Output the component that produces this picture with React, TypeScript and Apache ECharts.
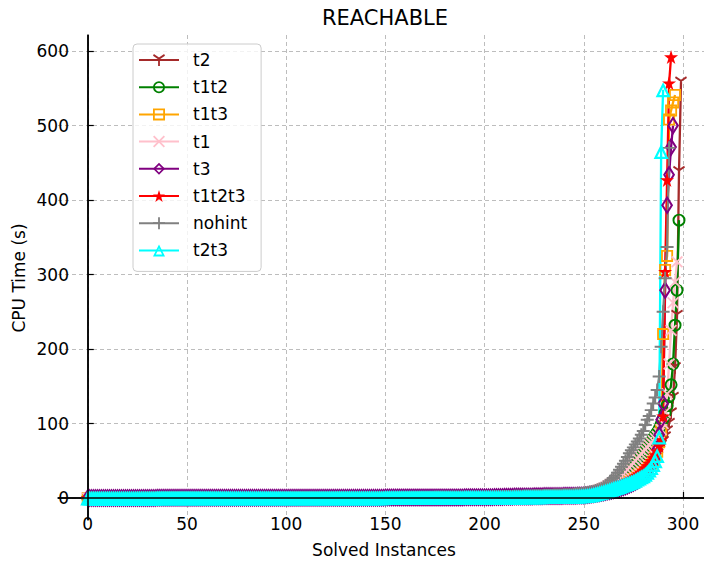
import React, { useEffect, useRef } from "react";
import * as echarts from "echarts";

const FONT = "DejaVu Sans";

const seriesNames = ["t2", "t1t2", "t1t3", "t1", "t3", "t1t2t3", "nohint", "t2t3"];
const xTicks = [0, 50, 100, 150, 200, 250, 300];
const yTicks = [0, 100, 200, 300, 400, 500, 600];
const titleText = "REACHABLE";
const xName = "Solved Instances";
const yName = "CPU Time (s)";

// CPU time (s) of each solved instance, sorted (cactus plot)
const t2 = [
  0.1,0.1,0.1,0.1,0.1, 0.1,0.1,0.1,0.1,0.1, 0.1,0.1,0.1,0.1,0.1, 0.1,0.1,0.1,0.1,0.1, 0.1,0.1,0.1,0.1,0.1,
  0.1,0.1,0.1,0.1,0.1, 0.2,0.2,0.2,0.2,0.2, 0.2,0.2,0.2,0.2,0.2, 0.2,0.2,0.2,0.2,0.2, 0.2,0.2,0.2,0.2,0.2,
  0.2,0.2,0.2,0.2,0.2, 0.2,0.2,0.2,0.2,0.2, 0.2,0.2,0.2,0.2,0.2, 0.2,0.2,0.2,0.2,0.2, 0.3,0.3,0.3,0.3,0.3,
  0.3,0.3,0.3,0.3,0.3, 0.3,0.3,0.3,0.3,0.3, 0.3,0.3,0.3,0.3,0.3, 0.3,0.3,0.3,0.3,0.3, 0.3,0.3,0.3,0.3,0.3,
  0.3,0.3,0.3,0.3,0.3, 0.3,0.3,0.3,0.3,0.3, 0.4,0.4,0.4,0.4,0.4, 0.4,0.4,0.4,0.4,0.4, 0.5,0.5,0.5,0.5,0.5,
  0.5,0.5,0.5,0.5,0.5, 0.5,0.5,0.5,0.5,0.5, 0.5,0.5,0.5,0.5,0.5, 0.5,0.5,0.5,0.5,0.5, 0.5,0.5,0.5,0.5,0.5,
  0.6,0.6,0.6,0.6,0.6, 0.6,0.6,0.6,0.6,0.6, 0.7,0.7,0.7,0.7,0.7, 0.7,0.7,0.7,0.7,0.7, 0.7,0.7,0.7,0.7,0.7,
  0.8,0.8,0.8,0.8,0.8, 0.8,0.8,0.8,0.8,0.8, 0.9,0.9,0.9,0.9,0.9, 0.9,0.9,0.9,0.9,0.9, 1,1,1,1,1,
  1.1,1.1,1.1,1.1,1.1, 1.3,1.3,1.3,1.3,1.3, 1.5,1.5,1.5,1.5,1.5, 1.7,1.7,1.7,1.7,1.7, 1.9,1.9,1.9,1.9,1.9,
  2.1,2.1,2.1,2.1,2.1, 2.5,2.5,2.5,2.5,2.5, 2.9,2.9,2.9,2.9,2.9, 3.3,3.3,3.3,3.3,3.3, 3.8,4,4.2,4.4,4.7,
  5,5.4,5.8,6.2,6.7, 7.2,7.8,8.4,9,9.7,
  10.5,11.3,12.1,13,13.9, 14.8,15.8,16.8,18,19.2,
  20.5,22,23.5,25,26.5, 28,30,32,34,36,
  38.5,41,44,47,50, 54,58,62,66,71,
  76,82,90,100,114, 135,175,245,438,558,
];

const t1t2 = [
  0.1,0.1,0.1,0.1,0.1, 0.1,0.1,0.1,0.1,0.1, 0.1,0.1,0.1,0.1,0.1, 0.1,0.1,0.1,0.1,0.1, 0.1,0.1,0.1,0.1,0.1,
  0.1,0.1,0.1,0.1,0.1, 0.1,0.1,0.1,0.1,0.1, 0.2,0.2,0.2,0.2,0.2, 0.2,0.2,0.2,0.2,0.2, 0.2,0.2,0.2,0.2,0.2,
  0.2,0.2,0.2,0.2,0.2, 0.2,0.2,0.2,0.2,0.2, 0.2,0.2,0.2,0.2,0.2, 0.2,0.2,0.2,0.2,0.2, 0.2,0.2,0.2,0.2,0.2,
  0.3,0.3,0.3,0.3,0.3, 0.3,0.3,0.3,0.3,0.3, 0.3,0.3,0.3,0.3,0.3, 0.3,0.3,0.3,0.3,0.3, 0.3,0.3,0.3,0.3,0.3,
  0.4,0.4,0.4,0.4,0.4, 0.4,0.4,0.4,0.4,0.4, 0.4,0.4,0.4,0.4,0.4, 0.4,0.4,0.4,0.4,0.4, 0.4,0.4,0.4,0.4,0.4,
  0.5,0.5,0.5,0.5,0.5, 0.5,0.5,0.5,0.5,0.5, 0.5,0.5,0.5,0.5,0.5, 0.6,0.6,0.6,0.6,0.6, 0.6,0.6,0.6,0.6,0.6,
  0.7,0.7,0.7,0.7,0.7, 0.7,0.7,0.7,0.7,0.7, 0.7,0.7,0.7,0.7,0.7, 0.7,0.7,0.7,0.7,0.7, 0.7,0.7,0.7,0.7,0.7,
  0.8,0.8,0.8,0.8,0.8, 0.8,0.8,0.8,0.8,0.8, 1,1,1,1,1, 1,1,1,1,1, 1.2,1.2,1.2,1.2,1.2,
  1.4,1.4,1.4,1.4,1.4, 1.6,1.6,1.6,1.6,1.6, 1.8,1.8,1.8,1.8,1.8, 2,2,2,2,2, 2.3,2.3,2.3,2.3,2.3,
  2.6,2.6,2.6,2.6,2.6, 3,3,3,3,3, 3.4,3.4,3.4,3.4,3.4, 3.8,3.8,3.8,3.8,3.8, 4.2,4.4,4.6,4.9,5.2,
  5.5,5.8,6.2,6.6,7, 7.5,8,8.6,9.2,9.8,
  11,12,13.2,14.5,16, 17.5,19.2,21,23,25,
  27,29.5,32,35,38, 41.5,45,48.5,52,56,
  60,64,68,72,76, 80,84,88,93,99,
  106,114,124,136,152, 180,232,279,373,
];

const t1t3 = [
  0.1,0.1,0.1,0.1,0.1, 0.1,0.1,0.1,0.1,0.1, 0.1,0.1,0.1,0.1,0.1, 0.1,0.1,0.1,0.1,0.1, 0.1,0.1,0.1,0.1,0.1,
  0.1,0.1,0.1,0.1,0.1, 0.1,0.1,0.1,0.1,0.1, 0.1,0.1,0.1,0.1,0.1, 0.2,0.2,0.2,0.2,0.2, 0.2,0.2,0.2,0.2,0.2,
  0.2,0.2,0.2,0.2,0.2, 0.2,0.2,0.2,0.2,0.2, 0.2,0.2,0.2,0.2,0.2, 0.2,0.2,0.2,0.2,0.2, 0.2,0.2,0.2,0.2,0.2,
  0.2,0.2,0.2,0.2,0.2, 0.2,0.2,0.2,0.2,0.2, 0.3,0.3,0.3,0.3,0.3, 0.3,0.3,0.3,0.3,0.3, 0.3,0.3,0.3,0.3,0.3,
  0.3,0.3,0.3,0.3,0.3, 0.3,0.3,0.3,0.3,0.3, 0.4,0.4,0.4,0.4,0.4, 0.4,0.4,0.4,0.4,0.4, 0.4,0.4,0.4,0.4,0.4,
  0.5,0.5,0.5,0.5,0.5, 0.5,0.5,0.5,0.5,0.5, 0.5,0.5,0.5,0.5,0.5, 0.5,0.5,0.5,0.5,0.5, 0.5,0.5,0.5,0.5,0.5,
  0.6,0.6,0.6,0.6,0.6, 0.6,0.6,0.6,0.6,0.6, 0.6,0.6,0.6,0.6,0.6, 0.7,0.7,0.7,0.7,0.7, 0.7,0.7,0.7,0.7,0.7,
  0.8,0.8,0.8,0.8,0.8, 0.8,0.8,0.8,0.8,0.8, 0.8,0.8,0.8,0.8,0.8, 0.9,0.9,0.9,0.9,0.9, 0.9,0.9,0.9,0.9,0.9,
  1,1,1,1,1, 1.2,1.2,1.2,1.2,1.2, 1.4,1.4,1.4,1.4,1.4, 1.6,1.6,1.6,1.6,1.6, 1.8,1.8,1.8,1.8,1.8,
  2,2,2,2,2, 2.4,2.4,2.4,2.4,2.4, 2.8,2.8,2.8,2.8,2.8, 3.2,3.2,3.2,3.2,3.2, 3.6,3.8,4,4.2,4.3,
  4.5,4.8,5.1,5.5,5.9, 6.3,6.8,7.3,7.8,8.4,
  9,9.7,10.4,11.2,12, 12.9,13.8,14.8,15.8,17,
  18.2,19.5,21,22.5,24, 25.5,27,29,31,33,
  35,37.5,40,43,46, 50,55,62,75,91,
  220,306,325,508,520, 531,541,
];

const t1 = [
  0.1,0.1,0.1,0.1,0.1, 0.1,0.1,0.1,0.1,0.1, 0.1,0.1,0.1,0.1,0.1, 0.1,0.1,0.1,0.1,0.1, 0.1,0.1,0.1,0.1,0.1,
  0.1,0.1,0.1,0.1,0.1, 0.2,0.2,0.2,0.2,0.2, 0.2,0.2,0.2,0.2,0.2, 0.2,0.2,0.2,0.2,0.2, 0.2,0.2,0.2,0.2,0.2,
  0.2,0.2,0.2,0.2,0.2, 0.2,0.2,0.2,0.2,0.2, 0.2,0.2,0.2,0.2,0.2, 0.3,0.3,0.3,0.3,0.3, 0.3,0.3,0.3,0.3,0.3,
  0.3,0.3,0.3,0.3,0.3, 0.3,0.3,0.3,0.3,0.3, 0.3,0.3,0.3,0.3,0.3, 0.3,0.3,0.3,0.3,0.3, 0.4,0.4,0.4,0.4,0.4,
  0.4,0.4,0.4,0.4,0.4, 0.4,0.4,0.4,0.4,0.4, 0.4,0.4,0.4,0.4,0.4, 0.4,0.4,0.4,0.4,0.4, 0.5,0.5,0.5,0.5,0.5,
  0.5,0.5,0.5,0.5,0.5, 0.5,0.5,0.5,0.5,0.5, 0.5,0.5,0.5,0.5,0.5, 0.6,0.6,0.6,0.6,0.6, 0.6,0.6,0.6,0.6,0.6,
  0.7,0.7,0.7,0.7,0.7, 0.7,0.7,0.7,0.7,0.7, 0.7,0.7,0.7,0.7,0.7, 0.7,0.7,0.7,0.7,0.7, 0.8,0.8,0.8,0.8,0.8,
  0.9,0.9,0.9,0.9,0.9, 0.9,0.9,0.9,0.9,0.9, 1,1,1,1,1, 1,1,1,1,1, 1.2,1.2,1.2,1.2,1.2,
  1.4,1.4,1.4,1.4,1.4, 1.6,1.6,1.6,1.6,1.6, 1.9,1.9,1.9,1.9,1.9, 2.2,2.2,2.2,2.2,2.2, 2.5,2.5,2.5,2.5,2.5,
  2.9,2.9,2.9,2.9,2.9, 3.3,3.3,3.3,3.3,3.3, 3.8,3.8,3.8,3.8,3.8, 4.3,4.3,4.3,4.3,4.3, 4.8,5,5.2,5.5,5.7,
  6,6.5,7,7.6,8.2, 8.9,9.6,10.4,11.3,12.3,
  13.4,14.6,16,17.5,19, 21,23,25,27.5,30,
  32.5,35,38,41,44, 47,50,53,56,59,
  62,65,68,71,74, 77,80,83,87,92,
  100,115,140,180,225, 262,290,317,
];

const t3 = [
  0.1,0.1,0.1,0.1,0.1, 0.1,0.1,0.1,0.1,0.1, 0.1,0.1,0.1,0.1,0.1, 0.1,0.1,0.1,0.1,0.1, 0.1,0.1,0.1,0.1,0.1,
  0.1,0.1,0.1,0.1,0.1, 0.1,0.1,0.1,0.1,0.1, 0.2,0.2,0.2,0.2,0.2, 0.2,0.2,0.2,0.2,0.2, 0.2,0.2,0.2,0.2,0.2,
  0.2,0.2,0.2,0.2,0.2, 0.2,0.2,0.2,0.2,0.2, 0.2,0.2,0.2,0.2,0.2, 0.2,0.2,0.2,0.2,0.2, 0.2,0.2,0.2,0.2,0.2,
  0.3,0.3,0.3,0.3,0.3, 0.3,0.3,0.3,0.3,0.3, 0.3,0.3,0.3,0.3,0.3, 0.3,0.3,0.3,0.3,0.3, 0.3,0.3,0.3,0.3,0.3,
  0.3,0.3,0.3,0.3,0.3, 0.4,0.4,0.4,0.4,0.4, 0.4,0.4,0.4,0.4,0.4, 0.4,0.4,0.4,0.4,0.4, 0.4,0.4,0.4,0.4,0.4,
  0.5,0.5,0.5,0.5,0.5, 0.5,0.5,0.5,0.5,0.5, 0.5,0.5,0.5,0.5,0.5, 0.5,0.5,0.5,0.5,0.5, 0.5,0.5,0.5,0.5,0.5,
  0.6,0.6,0.6,0.6,0.6, 0.6,0.6,0.6,0.6,0.6, 0.6,0.6,0.6,0.6,0.6, 0.7,0.7,0.7,0.7,0.7, 0.7,0.7,0.7,0.7,0.7,
  0.8,0.8,0.8,0.8,0.8, 0.8,0.8,0.8,0.8,0.8, 0.8,0.8,0.8,0.8,0.8, 0.9,0.9,0.9,0.9,0.9, 0.9,0.9,0.9,0.9,0.9,
  1,1,1,1,1, 1.5,1.5,1.5,1.5,1.5, 1.8,1.8,1.8,1.8,1.8, 2,2,2,2,2, 2.2,2.2,2.2,2.2,2.2,
  2.4,2.4,2.4,2.4,2.4, 2.6,2.6,2.6,2.6,2.6, 2.8,2.8,2.8,2.8,2.8, 3,3,3,3,3, 3.1,3.2,3.3,3.4,3.4,
  3.5,3.8,4.1,4.4,4.8, 5.2,5.6,6,6.5,7,
  7.5,8,8.6,9.2,9.8, 10.5,11.2,12,12.8,13.7,
  14.6,15.6,16.6,17.7,18.9, 20.2,21.6,23.2,25,27,
  29,31.5,34.5,38,42, 47,54,65,85,105,
  127,279,393,434,471, 500,
];

const t1t2t3 = [
  0.1,0.1,0.1,0.1,0.1, 0.1,0.1,0.1,0.1,0.1, 0.1,0.1,0.1,0.1,0.1, 0.1,0.1,0.1,0.1,0.1, 0.1,0.1,0.1,0.1,0.1,
  0.1,0.1,0.1,0.1,0.1, 0.2,0.2,0.2,0.2,0.2, 0.2,0.2,0.2,0.2,0.2, 0.2,0.2,0.2,0.2,0.2, 0.2,0.2,0.2,0.2,0.2,
  0.2,0.2,0.2,0.2,0.2, 0.2,0.2,0.2,0.2,0.2, 0.2,0.2,0.2,0.2,0.2, 0.2,0.2,0.2,0.2,0.2, 0.3,0.3,0.3,0.3,0.3,
  0.3,0.3,0.3,0.3,0.3, 0.3,0.3,0.3,0.3,0.3, 0.3,0.3,0.3,0.3,0.3, 0.3,0.3,0.3,0.3,0.3, 0.3,0.3,0.3,0.3,0.3,
  0.4,0.4,0.4,0.4,0.4, 0.4,0.4,0.4,0.4,0.4, 0.4,0.4,0.4,0.4,0.4, 0.4,0.4,0.4,0.4,0.4, 0.4,0.4,0.4,0.4,0.4,
  0.5,0.5,0.5,0.5,0.5, 0.5,0.5,0.5,0.5,0.5, 0.5,0.5,0.5,0.5,0.5, 0.5,0.5,0.5,0.5,0.5, 0.6,0.6,0.6,0.6,0.6,
  0.6,0.6,0.6,0.6,0.6, 0.6,0.6,0.6,0.6,0.6, 0.7,0.7,0.7,0.7,0.7, 0.7,0.7,0.7,0.7,0.7, 0.7,0.7,0.7,0.7,0.7,
  0.8,0.8,0.8,0.8,0.8, 0.8,0.8,0.8,0.8,0.8, 0.8,0.8,0.8,0.8,0.8, 1,1,1,1,1, 1,1,1,1,1,
  1.1,1.1,1.1,1.1,1.1, 1.3,1.3,1.3,1.3,1.3, 1.5,1.5,1.5,1.5,1.5, 1.7,1.7,1.7,1.7,1.7, 2,2,2,2,2,
  2.3,2.3,2.3,2.3,2.3, 2.6,2.6,2.6,2.6,2.6, 3,3,3,3,3, 3.3,3.3,3.3,3.3,3.3, 3.5,3.6,3.7,3.8,3.9,
  4,4.3,4.6,5,5.4, 5.8,6.3,6.8,7.3,7.9,
  8.5,9.2,10,10.8,11.7, 12.6,13.6,14.7,15.9,17.2,
  18.6,20,21.5,23,24.6, 26.3,28,30,32,34.5,
  37,40,43,46.5,50, 54,58,63,70,78,
  110,304,427,557,592,
];

const nohint = [
  0.1,0.1,0.1,0.1,0.1, 0.1,0.1,0.1,0.1,0.1, 0.1,0.1,0.1,0.1,0.1, 0.1,0.1,0.1,0.1,0.1, 0.1,0.1,0.1,0.1,0.1,
  0.2,0.2,0.2,0.2,0.2, 0.2,0.2,0.2,0.2,0.2, 0.2,0.2,0.2,0.2,0.2, 0.2,0.2,0.2,0.2,0.2, 0.2,0.2,0.2,0.2,0.2,
  0.2,0.2,0.2,0.2,0.2, 0.2,0.2,0.2,0.2,0.2, 0.3,0.3,0.3,0.3,0.3, 0.3,0.3,0.3,0.3,0.3, 0.3,0.3,0.3,0.3,0.3,
  0.3,0.3,0.3,0.3,0.3, 0.3,0.3,0.3,0.3,0.3, 0.4,0.4,0.4,0.4,0.4, 0.4,0.4,0.4,0.4,0.4, 0.4,0.4,0.4,0.4,0.4,
  0.5,0.5,0.5,0.5,0.5, 0.5,0.5,0.5,0.5,0.5, 0.5,0.5,0.5,0.5,0.5, 0.5,0.5,0.5,0.5,0.5, 0.5,0.5,0.5,0.5,0.5,
  0.6,0.6,0.6,0.6,0.6, 0.6,0.6,0.6,0.6,0.6, 0.6,0.6,0.6,0.6,0.6, 0.6,0.6,0.6,0.6,0.6, 0.6,0.6,0.6,0.6,0.6,
  0.7,0.7,0.7,0.7,0.7, 0.7,0.7,0.7,0.7,0.7, 0.8,0.8,0.8,0.8,0.8, 0.8,0.8,0.8,0.8,0.8, 0.8,0.8,0.8,0.8,0.8,
  0.9,0.9,0.9,0.9,0.9, 0.9,0.9,0.9,0.9,0.9, 1,1,1,1,1, 1,1,1,1,1, 1.2,1.2,1.2,1.2,1.2,
  1.4,1.4,1.4,1.4,1.4, 1.7,1.7,1.7,1.7,1.7, 2,2,2,2,2, 2.4,2.4,2.4,2.4,2.4, 2.8,2.8,2.8,2.8,2.8,
  3.2,3.2,3.2,3.2,3.2, 3.6,3.6,3.6,3.6,3.6, 4,4,4,4,4, 4.5,4.5,4.5,4.5,4.5, 5,5.3,5.6,5.9,6.2,
  6.5,7,7.5,8,8.5, 9,10,11,12,13,
  15,17,19,21,24, 27,30,34,38,42,
  46,50,55,60,64, 68,72,76,80,85,
  90,98,105,110,118, 127,135,145,163,203,
  250,295,337,470,
];

const t2t3 = [
  0.1,0.1,0.1,0.1,0.1, 0.1,0.1,0.1,0.1,0.1, 0.1,0.1,0.1,0.1,0.1, 0.1,0.1,0.1,0.1,0.1, 0.1,0.1,0.1,0.1,0.1,
  0.1,0.1,0.1,0.1,0.1, 0.1,0.1,0.1,0.1,0.1, 0.2,0.2,0.2,0.2,0.2, 0.2,0.2,0.2,0.2,0.2, 0.2,0.2,0.2,0.2,0.2,
  0.2,0.2,0.2,0.2,0.2, 0.2,0.2,0.2,0.2,0.2, 0.2,0.2,0.2,0.2,0.2, 0.2,0.2,0.2,0.2,0.2, 0.2,0.2,0.2,0.2,0.2,
  0.3,0.3,0.3,0.3,0.3, 0.3,0.3,0.3,0.3,0.3, 0.3,0.3,0.3,0.3,0.3, 0.3,0.3,0.3,0.3,0.3, 0.3,0.3,0.3,0.3,0.3,
  0.3,0.3,0.3,0.3,0.3, 0.4,0.4,0.4,0.4,0.4, 0.4,0.4,0.4,0.4,0.4, 0.4,0.4,0.4,0.4,0.4, 0.4,0.4,0.4,0.4,0.4,
  0.5,0.5,0.5,0.5,0.5, 0.5,0.5,0.5,0.5,0.5, 0.5,0.5,0.5,0.5,0.5, 0.5,0.5,0.5,0.5,0.5, 0.5,0.5,0.5,0.5,0.5,
  0.6,0.6,0.6,0.6,0.6, 0.6,0.6,0.6,0.6,0.6, 0.6,0.6,0.6,0.6,0.6, 0.6,0.6,0.6,0.6,0.6, 0.7,0.7,0.7,0.7,0.7,
  0.8,0.8,0.8,0.8,0.8, 0.8,0.8,0.8,0.8,0.8, 0.8,0.8,0.8,0.8,0.8, 0.9,0.9,0.9,0.9,0.9, 0.9,0.9,0.9,0.9,0.9,
  1,1,1,1,1, 1,1,1,1,1, 1.2,1.2,1.2,1.2,1.2, 1.4,1.4,1.4,1.4,1.4, 1.6,1.6,1.6,1.6,1.6,
  1.8,1.8,1.8,1.8,1.8, 2,2,2,2,2, 2.2,2.2,2.2,2.2,2.2, 2.4,2.4,2.4,2.4,2.4, 2.5,2.6,2.7,2.8,2.9,
  3,3.3,3.6,4,4.5, 5,5.6,6.3,7,7.7,
  8.5,9.3,10.1,11,11.9, 12.8,13.7,14.6,15.5,16.5,
  17.5,18.5,19.5,20.5,21.5, 22.5,24,25.5,27,28.5,
  30,32,34.5,37.5,41, 45,50,57,82,465,
  548,
];

// ---- styles (not data) ----
const COLORS = ["#a52a2a", "#008000", "#ffa500", "#ffc0cb", "#800080", "#ff0000", "#808080", "#00ffff"];
const SYM_TRIDOWN =
  "path://M4.3,5L5.7,5L5.7,10L4.3,10ZM4.65,5.606L0.32,3.106L1.02,1.894L5.35,4.394ZM4.65,4.394L8.98,1.894L9.68,3.106L5.35,5.606Z";
const SYM_RING =
  "path://M5,0A5,5,0,1,1,5,10A5,5,0,1,1,5,0ZM5,1.5A3.5,3.5,0,1,0,5,8.5A3.5,3.5,0,1,0,5,1.5Z";
const SYM_SQUARE = "path://M0,0L10,0L10,10L0,10ZM1.5,1.5L1.5,8.5L8.5,8.5L8.5,1.5Z";
const SYM_X =
  "path://M0,1.06L1.06,0L5,3.94L8.94,0L10,1.06L6.06,5L10,8.94L8.94,10L5,6.06L1.06,10L0,8.94L3.94,5Z";
const SYM_DIAMOND = "path://M5,0L10,5L5,10L0,5ZM5,2L2,5L5,8L8,5Z";
const SYM_STAR =
  "path://M5,0L6.117,3.463L9.755,3.455L6.807,5.587L7.939,9.045L5,6.9L2.061,9.045L3.193,5.587L0.245,3.455L3.883,3.463Z";
const SYM_PLUS =
  "path://M4.25,0L5.75,0L5.75,4.25L10,4.25L10,5.75L5.75,5.75L5.75,10L4.25,10L4.25,5.75L0,5.75L0,4.25L4.25,4.25Z";
const SYM_TRI = "path://M5,0L10,10L0,10ZM5,3.3L2.4,8.5L7.6,8.5Z";
const SYMBOLS = [SYM_TRIDOWN, SYM_RING, SYM_SQUARE, SYM_X, SYM_DIAMOND, SYM_STAR, SYM_PLUS, SYM_TRI];
const SIZES: any[] = [[12, 12], 13, 12, 12, [12, 19], 14, 13, [15, 15]];

export default function App() {
  const ref = useRef<HTMLDivElement>(null);

  useEffect(() => {
    document.body.style.margin = "0";
    if (!ref.current) return;
    const chart = echarts.init(ref.current, undefined, { renderer: "svg" });
    const all = [t2, t1t2, t1t3, t1, t3, t1t2t3, nohint, t2t3];
    const axisText = { fontFamily: FONT, fontSize: 17, color: "#000" };
    const split = { show: true, lineStyle: { color: "#bdbdbd", width: 1, type: [4, 3] } };
    const last = all.length - 1;

    const option: any = {
      animation: false,
      backgroundColor: "#ffffff",
      title: {
        text: titleText,
        left: 385,
        top: 7,
        padding: 0,
        textAlign: "center",
        textStyle: { fontFamily: FONT, fontSize: 21, fontWeight: "normal", color: "#000" },
      },
      graphic: [
        {
          type: "text",
          x: 384,
          y: 550,
          silent: true,
          style: { text: xName, fontFamily: FONT, fontSize: 17, fill: "#000", align: "center", verticalAlign: "middle" },
        },
        {
          type: "text",
          x: 19,
          y: 278,
          rotation: Math.PI / 2,
          silent: true,
          style: { text: yName, fontFamily: FONT, fontSize: 17, fill: "#000", align: "center", verticalAlign: "middle" },
        },
      ],
      grid: { left: 58, right: 0, top: 35, bottom: 44, containLabel: false, outerBoundsMode: "none" },
      legend: {
        orient: "vertical",
        left: 133,
        top: 44,
        padding: [6, 14, 11, 5],
        itemGap: 7.2,
        itemWidth: 40,
        itemHeight: 15,
        backgroundColor: "rgba(255,255,255,0.8)",
        borderColor: "#cccccc",
        borderWidth: 1,
        borderRadius: 4,
        selectedMode: false,
        data: seriesNames,
        textStyle: { fontFamily: FONT, fontSize: 17, color: "#000", lineHeight: 20, padding: [0, 0, 0, 9] },
      },
      xAxis: {
        type: "value",
        min: -15,
        max: 310.6,
        axisLine: { show: true, onZero: true, lineStyle: { color: "#000", width: 1.5 } },
        axisTick: { show: true, inside: true, length: 6, customValues: xTicks, lineStyle: { color: "#000", width: 1.2 } },
        axisLabel: { ...axisText, customValues: xTicks, margin: -5, align: "center", verticalAlign: "top" },
        splitLine: split,
      },
      yAxis: {
        type: "value",
        min: -29.5,
        max: 621.5,
        axisLine: { show: true, onZero: true, lineStyle: { color: "#000", width: 1.5 } },
        axisTick: { show: true, inside: true, length: 6, customValues: yTicks, lineStyle: { color: "#000", width: 1.2 } },
        axisLabel: { ...axisText, customValues: yTicks, margin: -11, align: "right", verticalAlign: "middle" },
        splitLine: split,
      },
      series: all.map((vals, k) => ({
        type: "line",
        name: seriesNames[k],
        data: vals.map((v, i) => [i, v]),
        symbol: SYMBOLS[k],
        symbolSize: SIZES[k],
        showSymbol: true,
        showAllSymbol: true,
        silent: true,
        emphasis: { disabled: true },
        lineStyle: { color: COLORS[k], width: 2.3 },
        itemStyle: { color: COLORS[k] },
        markLine:
          k === last
            ? {
                silent: true,
                symbol: "none",
                label: { show: false },
                emphasis: { disabled: true },
                lineStyle: { color: "#000", width: 1.5, type: "solid" },
                data: [{ yAxis: 0 }, { xAxis: 0 }],
              }
            : undefined,
      })),
    };

    chart.setOption(option);
    return () => chart.dispose();
  }, []);

  return <div ref={ref} style={{ width: 704, height: 564 }} />;
}
